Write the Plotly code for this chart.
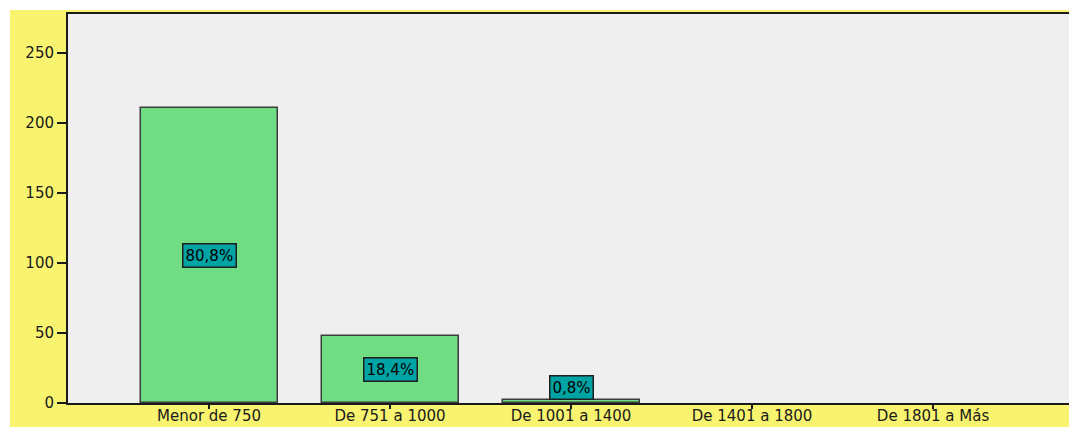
import plotly.graph_objects as go

# ingreso mensual (categorias) y frecuencias
categorias = ["Menor de 750", "De 751 a 1000", "De 1001 a 1400", "De 1401 a 1800", "De 1801 a Más"]
frecuencias = [211, 48, 2, 0, 0]
y_ticks = [0, 50, 100, 150, 200, 250]

total = sum(frecuencias)
porcentajes = [f * 100.0 / total for f in frecuencias]

fig = go.Figure()
fig.add_trace(go.Bar(
    x=list(range(len(categorias))), y=frecuencias, width=0.757,
    marker=dict(color="#70DD84", line=dict(color="#3c3c3c", width=[1.5 if f > 0 else 0 for f in frecuencias])),
    hoverinfo="skip",
))

# etiquetas de porcentaje dentro / encima de la barra
for i, (f, p) in enumerate(zip(frecuencias, porcentajes)):
    if f == 0:
        continue
    txt = ("%.1f%%" % p).replace(".", ",")
    if f < 20:
        yy, anchor = f, "bottom"
    else:
        yy, anchor = f / 2.0, "middle"
    fig.add_annotation(x=i, y=yy, text=txt, showarrow=False, yanchor=anchor,
                       bgcolor="#00A3A3", bordercolor="#1e1e1e", borderwidth=1.5, borderpad=2,
                       font=dict(family="DejaVu Sans", size=15, color="#000000"))

# franjas blancas arriba e izquierda
W, H = 1069, 427
ml, mr, mt, mb = 68, 0, 14, 24
pw, ph = W - ml - mr, H - mt - mb
fig.add_shape(type="rect", xref="paper", yref="paper", x0=-ml / pw, x1=1.01,
              y0=1 + (mt - 10) / ph, y1=1 + mt / ph + 0.01, fillcolor="white", line_width=0)
fig.add_shape(type="rect", xref="paper", yref="paper", x0=-ml / pw - 0.01, x1=(10 - ml) / pw,
              y0=-mb / ph - 0.01, y1=1 + mt / ph + 0.01, fillcolor="white", line_width=0)

fig.update_layout(
    width=W, height=H,
    margin=dict(l=ml, r=mr, t=mt, b=mb, autoexpand=False),
    paper_bgcolor="#F9F470", plot_bgcolor="#EFEFEF",
    showlegend=False, bargap=0,
    font=dict(family="DejaVu Sans", size=14, color="#1a1a1a"),
    xaxis=dict(range=[-0.779, 4.751], tickmode="array", tickvals=list(range(len(categorias))),
               ticktext=categorias, showgrid=False, zeroline=False, showline=True, mirror=True,
               linecolor="#1a1a1a", linewidth=2, ticks="outside", ticklen=4, tickwidth=2,
               tickcolor="#1a1a1a", tickfont=dict(size=15), ticklabelstandoff=-6, automargin=False),
    yaxis=dict(range=[0, 278], tickvals=y_ticks, showgrid=False, zeroline=False, showline=True,
               linecolor="#1a1a1a", linewidth=2, ticks="outside", ticklen=9, tickwidth=2,
               tickcolor="#1a1a1a", tickfont=dict(size=15), automargin=False),
)

fig.write_html("out.html", config={"displayModeBar": False},
               post_script="document.body.style.margin='0px';document.body.style.overflow='hidden';")
